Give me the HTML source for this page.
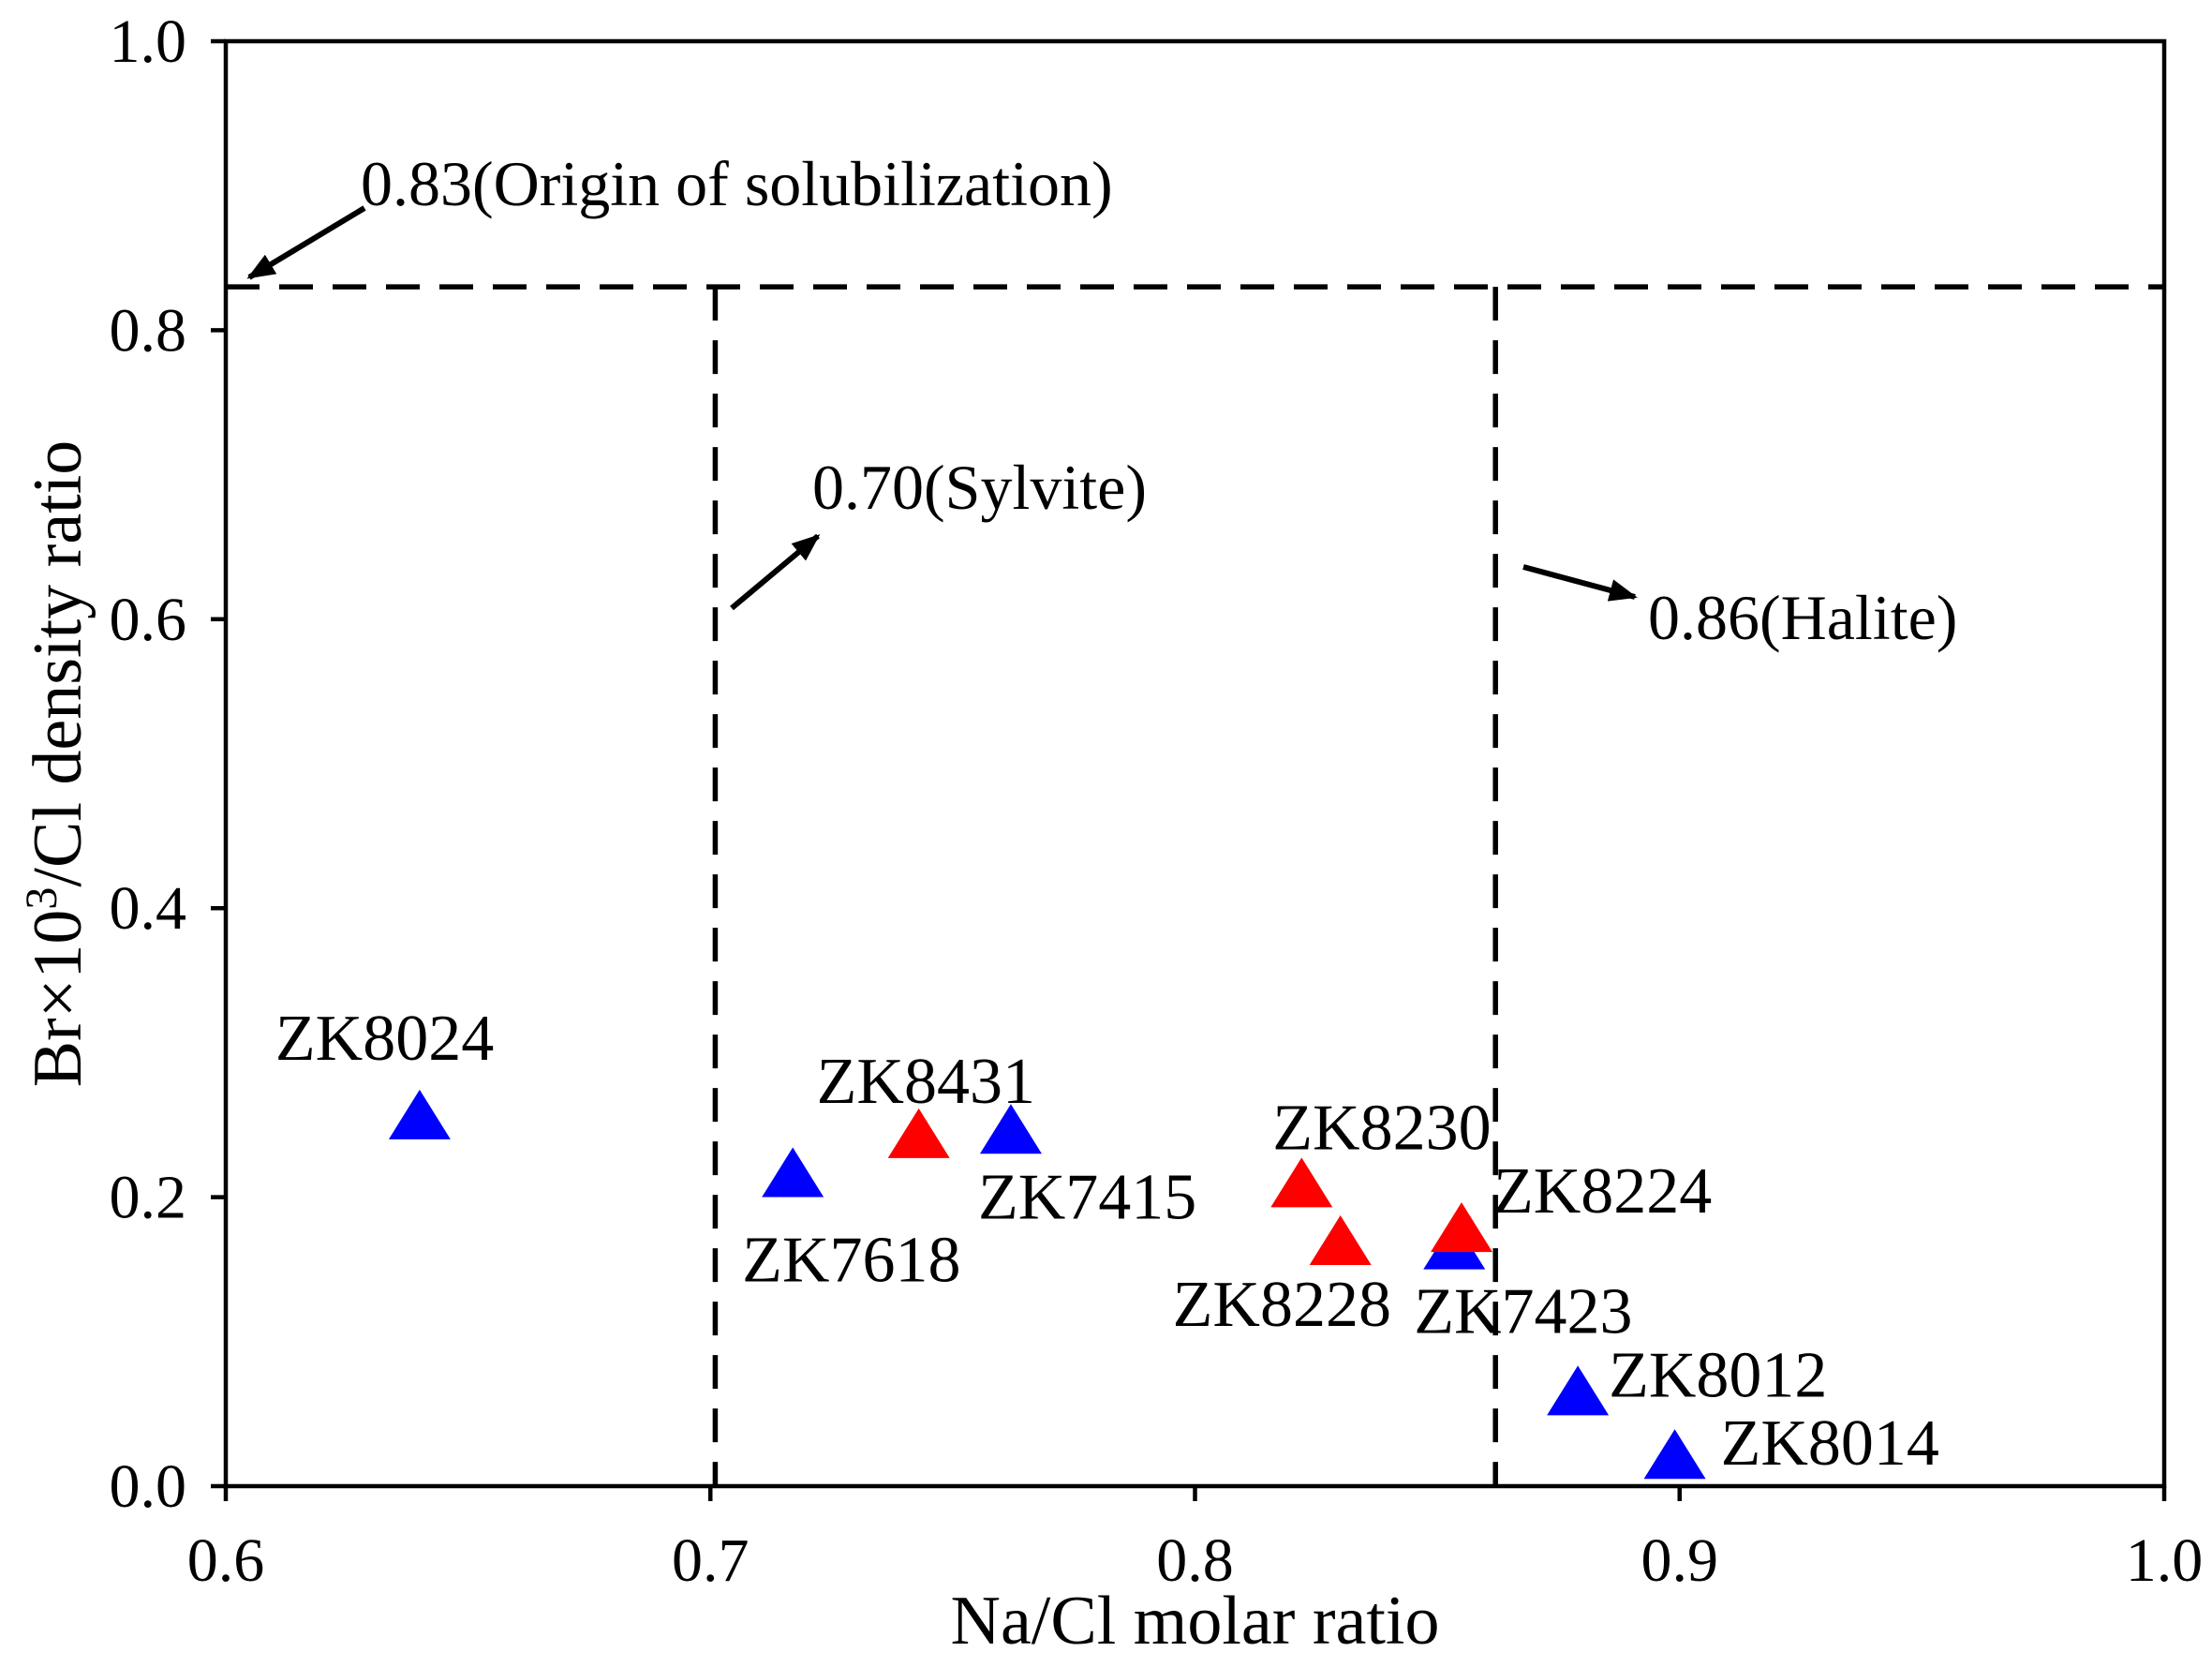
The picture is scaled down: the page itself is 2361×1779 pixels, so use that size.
<!DOCTYPE html>
<html><head><meta charset="utf-8"><style>
html,body{margin:0;padding:0;background:#fff}
svg{display:block;font-family:"Liberation Serif",serif}
</style></head><body>
<svg id="chart" width="2361" height="1779" viewBox="0 0 2361 1779">
<defs><marker id="ah" viewBox="0 0 10 10" refX="9" refY="5" markerWidth="5" markerHeight="5" orient="auto"><path d="M0,1 L10,5 L0,9 Z" fill="#000"/></marker></defs>
<g id="grid"></g>
<g id="marks"></g>
<g id="axes"></g>
<g font-size="68">
<text x="385" y="219">0.83(Origin of solubilization)</text>
<line x1="389" y1="222" x2="266" y2="296" stroke="#000" stroke-width="6" marker-end="url(#ah)"/>
<text x="867" y="543">0.70(Sylvite)</text>
<line x1="781" y1="649" x2="873" y2="572" stroke="#000" stroke-width="6" marker-end="url(#ah)"/>
<text x="1759" y="682">0.86(Halite)</text>
<line x1="1626" y1="605" x2="1745" y2="637" stroke="#000" stroke-width="6" marker-end="url(#ah)"/>
</g>
</svg>
<script>
const names=["ZK8024","ZK7618","ZK8431","ZK7415","ZK8230","ZK8228","ZK7423","ZK8224","ZK8012","ZK8014"];
const naCl=[0.640,0.717,0.743,0.762,0.822,0.830,0.8535,0.855,0.879,0.899];
const brCl=[0.253,0.213,0.240,0.243,0.206,0.166,0.163,0.175,0.062,0.018];
const groups=["blue","blue","red","blue","red","red","blue","red","blue","blue"];
const xTicks=[0.6,0.7,0.8,0.9,1.0];
const yTicks=[0.0,0.2,0.4,0.6,0.8,1.0];
const refH=0.83, refV=[0.701,0.862];
const labelOff=[[-154,-65],[-54,110],[-109,-39],[-35,89],[-31,-42],[-179,85],[-43,88],[34,-22],[33,0],[49,5]];

const L=241,R=2310,T=44,B=1586;
const sx=v=>L+(v-0.6)/0.4*(R-L);
const sy=v=>B-(v-0)/1.0*(B-T);
const NS="http://www.w3.org/2000/svg";
function mk(tag,attrs,parent){const e=document.createElementNS(NS,tag);for(const k in attrs)e.setAttribute(k,attrs[k]);parent.appendChild(e);return e;}
const grid=document.getElementById('grid'),marks=document.getElementById('marks'),axes=document.getElementById('axes');

let h=mk('line',{x1:sx(0.6),x2:sx(1.0),y1:sy(refH),y2:sy(refH),stroke:'#000','stroke-width':5.5,'stroke-dasharray':'36,21'},grid);


refV.forEach((v,i)=>{
 const l=mk('line',{x1:sx(v),x2:sx(v),y1:sy(refH),y2:sy(0),stroke:'#000','stroke-width':5.5,'stroke-dasharray':'36,21'},grid);
 
 
});

const col={blue:'#0000ff',red:'#ff0000'};
names.forEach((n,i)=>{
 const cx=sx(naCl[i]),cy=sy(brCl[i]);
 const p=mk('polygon',{points:`${cx},${cy-33} ${cx-33},${cy+20} ${cx+33},${cy+20}`,fill:col[groups[i]]},marks);
 
 
});
names.forEach((n,i)=>{
 const cx=sx(naCl[i]),cy=sy(brCl[i]);
 const t=mk('text',{x:cx+labelOff[i][0],y:cy+labelOff[i][1],'font-size':70},marks);
 t.textContent=n;
 
 
});

const fr=mk('rect',{x:L,y:T,width:R-L,height:B-T,fill:'none',stroke:'#000','stroke-width':4.5},axes);


xTicks.forEach(v=>{
 const tk=mk('line',{x1:sx(v),x2:sx(v),y1:B,y2:B+16,stroke:'#000','stroke-width':4.5},axes);
 
 
 const t=mk('text',{x:sx(v),y:1687,'font-size':66,'text-anchor':'middle'},axes);
 t.textContent=v.toFixed(1);
 
 
});
yTicks.forEach(v=>{
 const tk=mk('line',{x1:L-16,x2:L,y1:sy(v),y2:sy(v),stroke:'#000','stroke-width':4.5},axes);
 
 
 const t=mk('text',{x:199,y:sy(v)+22,'font-size':66,'text-anchor':'end'},axes);
 t.textContent=v.toFixed(1);
 
 
});
const xt=mk('text',{x:(L+R)/2,y:1754,'font-size':74,'text-anchor':'middle'},axes);
xt.textContent='Na/Cl molar ratio';


const yt=mk('text',{x:0,y:0,'font-size':74,'text-anchor':'middle',transform:'translate(86,815) rotate(-90)'},axes);
yt.innerHTML='Br×10<tspan dy="-26" font-size="48">3</tspan><tspan dy="26">/Cl density ratio</tspan>';


</script>
</body></html>
